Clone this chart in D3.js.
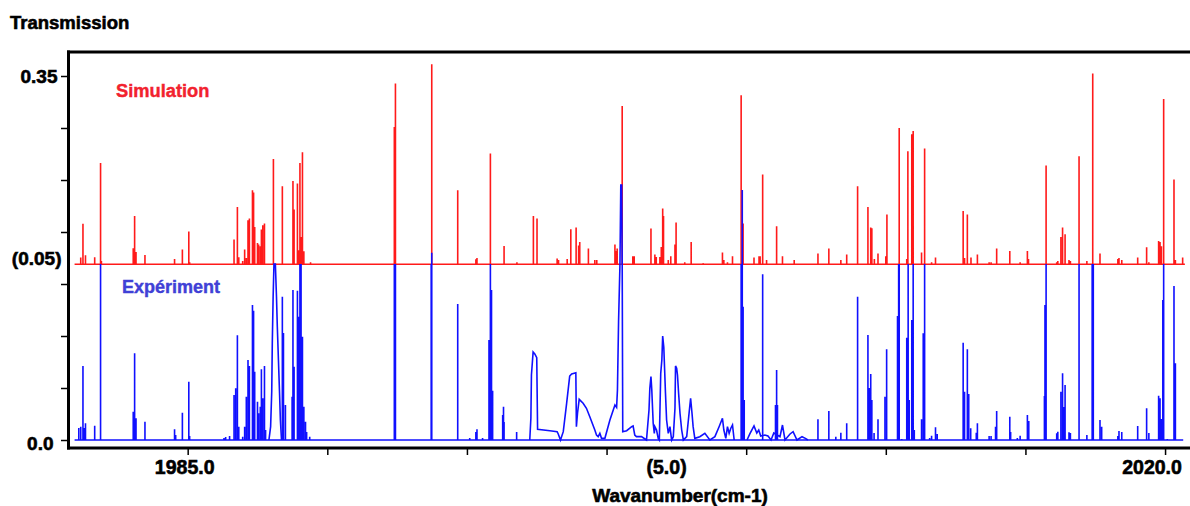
<!DOCTYPE html>
<html>
<head>
<meta charset="utf-8">
<script src="https://cdn.jsdelivr.net/npm/d3@7"></script>
<style>
  body { margin: 0; background: #fff; }
  svg { display: block; }
  text { font-family: "Liberation Sans", Arial, sans-serif; font-weight: bold; }
</style>
</head>
<body>
<svg id="chart" width="1190" height="506"></svg>
<script>
// Axis ticks and labels
const xTicks = [1985, 1990, 1995, 2000, 2005, 2010, 2015, 2020];
const xTickLabels = [
  { wn: 1985, text: "1985.0", shift: -3 },
  { wn: 2002.15, text: "(5.0)", shift: 0 },
  { wn: 2020, text: "2020.0", shift: -13 }
];
const yTicks = [0, 0.05, 0.10, 0.15, 0.20, 0.25, 0.30, 0.35];

// Simulated spectrum is drawn on its own offset baseline
const simOffset = 0.169;
const yTickLabels = [
  { v: 0.35, text: "0.35", dx: -11, dy: "0.36em" },
  { v: simOffset, text: "(0.05)", dx: -7, dy: "0.06em" },
  { v: 0, text: "0.0", dx: -15, dy: "0.5em" }
];

const traceStart = 1980.95;
const simEnd = 2020.71;
const expEnd = 2020.65;

// Simulation: [wavenumber, line height above offset]
const simPeaks = [
  [1981.17,0.0064],[1981.25,0.039],[1981.34,0.0087],[1981.67,0.0067],[1981.88,0.0974],[1981.91,0.003],
  [1983.05,0.0154],[1983.10,0.0464],[1983.15,0.0118],[1983.47,0.0089],
  [1984.53,0.0051],[1984.81,0.0141],[1985.04,0.0314],[1985.07,0.002],
  [1986.66,0.0238],[1986.78,0.0551],[1986.83,0.0067],[1986.97,0.003],[1987.04,0.0141],[1987.10,0.006],
  [1987.16,0.0423],[1987.21,0.0439],[1987.32,0.0712],[1987.36,0.0689],[1987.40,0.0359],[1987.50,0.0205],
  [1987.54,0.0189],[1987.60,0.0173],[1987.64,0.0334],[1987.69,0.0375],[1987.75,0.0391],
  [1988.07,0.1013],[1988.39,0.075],[1988.77,0.0801],[1988.81,0.0526],[1988.93,0.0776],[1988.98,0.0135],
  [1989.02,0.0974],[1989.06,0.0263],[1989.11,0.1077],[1989.16,0.0125],[1989.40,0.002],
  [1992.40,0.132],[1992.44,0.1738],[1993.74,0.1923],[1994.67,0.0712],
  [1995.32,0.0048],[1995.36,0.006],[1995.84,0.1064],[1996.33,0.0176],[1996.79,0.002],
  [1997.38,0.0464],[1997.51,0.0439],
  [1998.23,0.0055],[1998.28,0.004],[1998.59,0.005],[1998.72,0.0337],[1998.91,0.0353],[1999.00,0.018],
  [1999.04,0.0214],[1999.35,0.0151],[1999.58,0.004],[1999.65,0.004],
  [2000.30,0.0189],[2000.34,0.0128],[2000.38,0.0151],[2000.56,0.1522],[2000.94,0.0077],[2000.99,0.0077],
  [2001.59,0.0343],[2001.73,0.0093],[2001.78,0.007],[2001.91,0.007],[2001.96,0.0166],[2002.01,0.0536],
  [2002.04,0.0464],[2002.21,0.004],[2002.30,0.0077],[2002.45,0.0189],[2002.49,0.0401],[2002.80,0.002],
  [2003.03,0.0214],[2003.46,0.001],
  [2004.15,0.0113],[2004.20,0.004],[2004.33,0.002],[2004.51,0.0077],[2004.82,0.1625],[2004.89,0.0391],
  [2005.28,0.0064],[2005.46,0.0077],[2005.50,0.0077],[2005.59,0.0862],[2005.73,0.004],[2006.09,0.0365],
  [2006.30,0.0077],[2006.72,0.004],
  [2007.57,0.0103],[2007.96,0.0151],[2008.39,0.004],[2008.60,0.0093],
  [2008.99,0.075],[2009.36,0.0551],[2009.46,0.0353],[2009.50,0.0346],[2009.59,0.005],[2009.72,0.0103],
  [2010.00,0.0077],[2010.04,0.0478],[2010.48,0.1311],[2010.75,0.005],[2010.79,0.1087],[2010.93,0.125],
  [2010.98,0.1282],
  [2011.28,0.0113],[2011.39,0.1113],[2011.64,0.002],[2011.78,0.0064],
  [2012.77,0.0513],[2012.82,0.006],[2012.92,0.0478],[2013.05,0.0064],[2013.28,0.0093],[2013.70,0.002],
  [2013.77,0.002],[2013.97,0.0151],
  [2014.44,0.0128],[2014.81,0.002],[2015.07,0.0128],[2015.11,0.005],[2015.74,0.0949],
  [2016.12,0.002],[2016.16,0.003],[2016.27,0.0263],[2016.33,0.0353],[2016.42,0.0288],[2016.56,0.004],
  [2016.61,0.003],[2016.92,0.1038],[2017.20,0.003],[2017.41,0.1834],[2017.67,0.0103],
  [2018.31,0.005],[2018.35,0.006],[2018.45,0.004],
  [2019.02,0.0064],[2019.34,0.0163],[2019.42,0.002],[2019.77,0.0224],[2019.82,0.0214],[2019.87,0.0173],
  [2019.95,0.1589],[2020.32,0.0814],[2020.37,0.004],[2020.63,0.0064]
];

// Experiment: narrow lines [wavenumber, transmission]
const expSticks = [
  [1981.10,0.0115],[1981.17,0.0128],[1981.25,0.0712],[1981.29,0.0115],[1981.34,0.0161],
  [1981.67,0.0138],[1981.88,0.1692],
  [1983.05,0.0272],[1983.10,0.0834],[1983.15,0.0209],[1983.47,0.0176],
  [1984.53,0.0103],[1984.57,0.0048],[1984.81,0.0263],[1985.04,0.0561],[1985.07,0.0038],
  [1986.30,0.0019],[1986.36,0.0029],[1986.50,0.0038],
  [1986.66,0.0433],[1986.72,0.0497],[1986.78,0.1007],[1986.83,0.0128],[1986.97,0.0032],
  [1987.04,0.0128],[1987.10,0.0416],[1987.16,0.0769],[1987.21,0.0712],[1987.32,0.1298],[1987.36,0.1243],
  [1987.40,0.0657],[1987.50,0.0368],[1987.54,0.0257],[1987.60,0.032],[1987.64,0.068],[1987.69,0.0401],
  [1987.75,0.0712],[1987.79,0.0096],
  [1988.39,0.1378],[1988.43,0.1029],[1988.50,0.0337],
  [1988.74,0.0416],[1988.77,0.1442],[1988.81,0.0705],[1988.93,0.1436],[1988.98,0.1186],[1989.02,0.1692],
  [1989.06,0.1692],[1989.11,0.0993],[1989.16,0.032],[1989.22,0.0176],[1989.26,0.0077],[1989.37,0.0032],
  [1992.40,0.1692],[1992.44,0.1692],
  [1993.72,0.1692],[1993.74,0.1801],
  [1994.67,0.1308],
  [1995.10,0.0019],[1995.32,0.0077],[1995.36,0.0103],[1995.56,0.0019],
  [1995.79,0.0962],[1995.84,0.1692],[1995.88,0.1442],[1995.92,0.0474],
  [1996.28,0.024],[1996.31,0.032],[1996.33,0.0173],[1996.78,0.0077],
  [2004.82,0.1692],[2004.86,0.2404],[2004.89,0.1282],[2004.93,0.0385],
  [2005.59,0.1593],[2006.05,0.0337],[2006.09,0.0673],[2006.12,0.0337],
  [2007.57,0.0199],[2007.96,0.0279],[2008.21,0.0032],[2008.39,0.007],[2008.60,0.0161],
  [2008.99,0.1378],[2009.36,0.101],[2009.41,0.05],[2009.46,0.0635],[2009.50,0.0385],[2009.58,0.0067],
  [2009.72,0.0199],
  [2009.97,0.0416],[2010.03,0.0872],[2010.42,0.1192],[2010.46,0.1692],[2010.48,0.1692],[2010.57,0.001],
  [2010.75,0.0984],[2010.80,0.1692],[2010.84,0.0385],[2010.93,0.1154],[2010.98,0.1692],[2011.02,0.0096],
  [2011.28,0.0199],[2011.34,0.1026],[2011.39,0.1692],[2011.57,0.0019],[2011.64,0.0041],[2011.78,0.0122],
  [2011.84,0.0058],
  [2012.77,0.0936],[2012.82,0.0464],[2012.92,0.0872],[2012.97,0.0442],[2013.04,0.0113],[2013.24,0.007],
  [2013.28,0.0161],
  [2013.70,0.0038],[2013.77,0.0038],[2013.93,0.0128],[2013.97,0.0279],
  [2014.44,0.0224],[2014.47,0.0077],[2014.71,0.0019],[2014.81,0.0041],
  [2015.07,0.024],[2015.12,0.0183],[2015.68,0.0423],[2015.70,0.1298],[2015.74,0.1692],
  [2016.12,0.0064],[2016.16,0.008],[2016.27,0.0464],[2016.33,0.0641],[2016.37,0.0317],[2016.42,0.0529],
  [2016.56,0.0074],[2016.61,0.0067],
  [2016.92,0.1692],[2017.20,0.0048],[2017.39,0.1692],[2017.43,0.1692],[2017.67,0.0192],[2017.73,0.0128],
  [2018.31,0.0038],[2018.35,0.0087],[2018.45,0.0077],
  [2019.02,0.0135],[2019.34,0.0305],[2019.42,0.0067],
  [2019.77,0.0426],[2019.82,0.0401],[2019.87,0.0202],[2019.92,0.1346],[2019.95,0.1692],[2020.08,0.001],
  [2020.32,0.1481],[2020.37,0.0738]
];

// Experiment: broad, resolved band profiles [wavenumber, transmission]
const expBandA = [
  [1987.91,0],[1987.97,0.0128],[1988.01,0.0464],[1988.03,0.093],[1988.06,0.1378],[1988.09,0.1692],
  [1988.14,0.1692],[1988.18,0.1378],[1988.21,0.1089],[1988.25,0.0769],[1988.29,0.0449],[1988.32,0.0192],
  [1988.36,0]
];
const expBandB = [
  [1997.25,0],[1997.29,0.0209],[1997.31,0.0625],[1997.37,0.0846],[1997.43,0.0827],[1997.50,0.0791],
  [1997.53,0.0103],[1997.97,0.0089],[1998.23,0.008],[1998.27,0.0058],[1998.35,0],[1998.45,0.008],
  [1998.57,0.0353],[1998.68,0.0615],[1998.75,0.0635],[1998.90,0.0647],[1998.92,0.0128],[1998.96,0.0257],
  [1999.02,0.0391],[1999.16,0.0353],[1999.28,0.0305],[1999.40,0.0224],[1999.58,0.0096],[1999.64,0.0048],
  [1999.70,0.0032],[1999.76,0.0064],[1999.82,0.0016],[1999.94,0.0016],[2000.12,0.0192],[2000.30,0.0337],
  [2000.36,0.0314],[2000.39,0.0481],[2000.43,0.1138],[2000.48,0.1692],[2000.51,0.2452],[2000.54,0.2452],
  [2000.56,0.1692],[2000.58,0.008],[2000.72,0.0089],[2000.90,0.0128],[2000.95,0.0135],[2001.01,0.0048],
  [2001.07,0.0032],[2001.25,0.0032],[2001.43,0],[2001.52,0.0288],[2001.55,0.0497],[2001.59,0.0609],
  [2001.62,0.0481],[2001.65,0.0288],[2001.67,0.0161],[2001.71,0.0064],[2001.73,0.0128],[2001.79,0.0096],
  [2001.85,0.0016],[2001.89,0],[2001.94,0.0641],[2001.98,0.0769],[2002.01,0.1],[2002.05,0.0891],
  [2002.08,0.0673],[2002.11,0.0449],[2002.15,0.0192],[2002.21,0.0064],[2002.27,0.0128],[2002.33,0],
  [2002.39,0.0032],[2002.45,0.0305],[2002.47,0.0712],[2002.51,0.0689],[2002.54,0.0625],[2002.58,0.0449],
  [2002.63,0.0257],[2002.69,0.0096],[2002.75,0],[2002.87,0.0032],[2002.96,0.0272],[2003.01,0.0401],
  [2003.06,0.0257],[2003.10,0.0128],[2003.16,0.0016],[2003.34,0.0032],[2003.52,0.0064],[2003.70,0],
  [2003.88,0.0032],[2004.03,0.0128],[2004.15,0.0209],[2004.20,0.0096],[2004.27,0.0016],[2004.33,0.0128],
  [2004.39,0.0064],[2004.45,0.0113],[2004.51,0.0144],[2004.57,0]
];
const expBandC = [
  [2005.03,0],[2005.13,0.0058],[2005.28,0.0135],[2005.38,0.0067],[2005.45,0.0096],[2005.52,0.0038],
  [2005.67,0.0048],[2005.78,0.0038],[2005.89,0],[2005.99,0.0067],[2006.21,0.0032],[2006.30,0.0144],
  [2006.39,0],[2006.57,0.0058],[2006.68,0.008],[2006.82,0],[2007.00,0.0032],[2007.12,0.0016],[2007.21,0]
];

const svg = d3.select("#chart");

const x = d3.scaleLinear().domain([1980.75, 2020.75]).range([69, 1186]);
const y = d3.scaleLinear().domain([0, 0.35]).range([440, 76]);

const frameTop = 52, frameBottom = 448, frameLeft = 68.5, frameRight = 1190;

// Sticks as one path: a vertical segment per line
function stickPath(data, base) {
  return data.map(d => `M${x(d[0]).toFixed(2)},${y(base).toFixed(2)}V${y(base + d[1]).toFixed(2)}`).join("");
}
const line = d3.line().x(d => x(d[0])).y(d => y(d[1]));

// Simulation trace (red)
const sim = svg.append("g").attr("fill", "none").attr("stroke", "#ff1a1a").attr("stroke-width", 1.6);
sim.append("path").attr("d", line([[traceStart, simOffset], [simEnd, simOffset]]));
sim.append("path").attr("d", stickPath(simPeaks, simOffset));

// Experiment trace (blue)
const exp = svg.append("g").attr("fill", "none").attr("stroke", "#1010ff").attr("stroke-width", 1.6);
exp.append("path").attr("d", line([[traceStart, 0], [expEnd, 0]]));
[expBandA, expBandB, expBandC].forEach(b => exp.append("path").attr("d", line(b)));
exp.append("path").attr("d", stickPath(expSticks, 0));

// Frame: top rule, left axis, bottom axis
const frame = svg.append("g").attr("stroke", "#000");
frame.append("line").attr("x1", frameLeft - 1.5).attr("x2", frameRight).attr("y1", frameTop).attr("y2", frameTop).attr("stroke-width", 3);
frame.append("line").attr("x1", frameLeft).attr("x2", frameLeft).attr("y1", frameTop - 1.5).attr("y2", frameBottom + 1.5).attr("stroke-width", 3);
frame.append("line").attr("x1", frameLeft - 1.5).attr("x2", frameRight).attr("y1", frameBottom).attr("y2", frameBottom).attr("stroke-width", 3);

// X axis ticks
const xAxis = d3.axisBottom(x).tickValues(xTicks).tickSize(7).tickSizeOuter(0).tickFormat("");
const gx = svg.append("g").attr("transform", `translate(0,${frameBottom})`).call(xAxis);
gx.select(".domain").remove();
gx.selectAll(".tick line").attr("stroke", "#000").attr("stroke-width", 1.5);

// Y axis ticks
const yAxis = d3.axisLeft(y).tickValues(yTicks).tickSize(6).tickSizeOuter(0).tickFormat("");
const gy = svg.append("g").attr("transform", `translate(${frameLeft - 1.5},0)`).call(yAxis);
gy.select(".domain").remove();
gy.selectAll(".tick line").attr("stroke", "#000").attr("stroke-width", 1.5);

const labelStyle = s => s.attr("fill", "#000").attr("stroke", "#000").attr("stroke-width", 0.6);

svg.selectAll(".xlab").data(xTickLabels).enter().append("text")
  .attr("class", "xlab")
  .attr("x", d => x(d.wn) + d.shift)
  .attr("y", 474)
  .attr("text-anchor", "middle")
  .attr("font-size", 19.5)
  .text(d => d.text)
  .call(labelStyle);

svg.selectAll(".ylab").data(yTickLabels).enter().append("text")
  .attr("class", "ylab")
  .attr("x", frameLeft)
  .attr("dx", d => d.dx)
  .attr("y", d => y(d.v))
  .attr("dy", d => d.dy)
  .attr("text-anchor", "end")
  .attr("font-size", 19)
  .text(d => d.text)
  .call(labelStyle);

// Titles
svg.append("text").attr("x", 10).attr("y", 29).attr("font-size", 18.5).text("Transmission").call(labelStyle);
svg.append("text").attr("x", 680).attr("y", 502).attr("text-anchor", "middle").attr("font-size", 19)
  .text("Wavanumber(cm-1)").call(labelStyle);

// Series labels
svg.append("text").attr("x", 116).attr("y", 97).attr("font-size", 18.3)
  .attr("fill", "#f2222e").attr("stroke", "#f2222e").attr("stroke-width", 0.4).text("Simulation");
svg.append("text").attr("x", 122).attr("y", 293).attr("font-size", 18)
  .attr("fill", "#4040d6").attr("stroke", "#4040d6").attr("stroke-width", 0.4).text("Expériment");
</script>
</body>
</html>
